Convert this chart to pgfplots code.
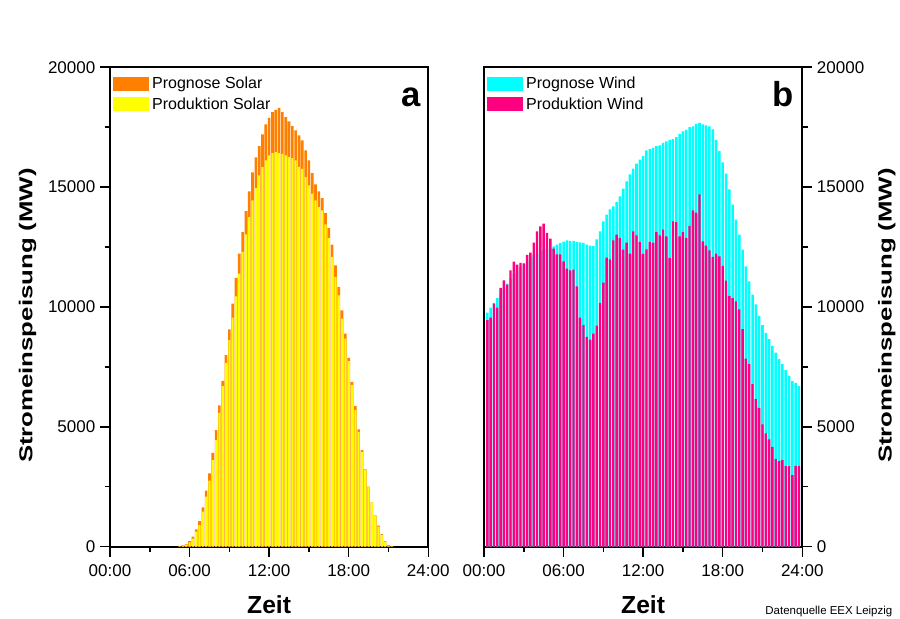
\documentclass[border=0pt]{standalone}
\usepackage{fontspec}
\setmainfont{Liberation Sans}
\usepackage{pgfplots}
\pgfplotsset{compat=1.18}

\definecolor{prsolar}{RGB}{255,128,0}
\definecolor{prodsolar}{RGB}{255,255,0}
\definecolor{prwind}{RGB}{0,255,255}
\definecolor{prodwind}{RGB}{255,0,128}

% solar, hours / MW
\pgfplotstableread{
h     prog   prod
5.25  20     10
5.50  50     30
5.75  111    80
6.00  236    180
6.25  417    333
6.50  722    625
6.75  1069   900
7.00  1639   1458
7.25  2333   2083
7.50  3056   2750
7.75  3917   3611
8.00  4861   4444
8.25  5889   5583
8.50  6917   6694
8.75  7986   7667
9.00  9069   8611
9.25  10139  9556
9.50  11208  10444
9.75  12222  11389
10.00 13125  12292
10.25 14000  13028
10.50 14819  13750
10.75 15611  14444
11.00 16236  14958
11.25 16708  15486
11.50 17194  15833
11.75 17611  16111
12.00 17889  16319
12.25 18125  16417
12.50 18222  16458
12.75 18306  16417
13.00 18125  16389
13.25 17917  16319
13.50 17736  16250
13.75 17542  16208
14.00 17361  16111
14.25 17153  15833
14.50 16944  15764
14.75 16528  15417
15.00 16111  15069
15.25 15583  14722
15.50 15111  14444
15.75 14819  14167
16.00 14542  14028
16.25 13917  13444
16.50 13292  12875
16.75 12597  12083
17.00 11736  11250
17.25 10833  10486
17.50 9861   9514
17.75 8889   8681
18.00 7875   7736
18.25 6875   6736
18.50 5861   5694
18.75 4889   4792
19.00 4028   3958
19.25 3222   3194
19.50 2500   2500
19.75 1847   1847
20.00 1306   1292
20.25 875    833
20.50 528    486
20.75 236    208
21.00 69     42
21.25 20     10
}\solar

% wind, hours / MW
\pgfplotstableread{
h     prog   prod
0.25  9765   9445
0.50  9973   9556
0.75  10167  10140
1.00  10376  9973
1.25  10556  10792
1.50  10765  11112
1.75  10973  10931
2.00  11181  11529
2.25  11390  11890
2.50  11529  11765
2.75  11668  11834
3.00  11806  11820
3.25  11945  12168
3.50  12057  12265
3.75  12154  12682
4.00  12251  13154
4.25  12334  13362
4.50  12390  13473
4.75  12432  13084
5.00  12473  12848
5.25  12529  12432
5.50  12598  12195
5.75  12668  12195
6.00  12723  11904
6.25  12779  11598
6.50  12751  11529
6.75  12751  11557
7.00  12709  10862
7.25  12696  9556
7.50  12668  9237
7.75  12598  8751
8.00  12557  8640
8.25  12543  8890
8.50  12820  9223
8.75  13154  10168
9.00  13570  11015
9.25  13848  12057
9.50  14071  11987
9.75  14196  12779
10.00 14376  13015
10.25 14612  12876
10.50 14932  12390
10.75 15237  12682
11.00 15529  12223
11.25 15765  13154
11.50 15973  12987
11.75 16140  12709
12.00 16293  12209
12.25 16529  12404
12.50 16598  12709
12.75 16640  12682
13.00 16709  13126
13.25 16737  12987
13.50 16848  13223
13.75 16904  12945
14.00 16973  12042
14.25 17001  13570
14.50 17084  13542
14.75 17223  12945
15.00 17320  13126
15.25 17390  12876
15.50 17501  13376
15.75 17529  14029
16.00 17640  13931
16.25 17681  14695
16.50 17612  12737
16.75 17570  12556
17.00 17529  12362
17.25 17404  12084
17.50 16973  12223
17.75 16501  12112
18.00 16029  11709
18.25 15556  11097
18.50 14900  10459
18.75 14265  10370
19.00 13645  10237
19.25 13020  9900
19.50 12390  9070
19.75 11695  7847
20.00 11070  7611
20.25 10514  6778
20.50 10111  6153
20.75 9625   5792
21.00 9236   5097
21.25 8917   4722
21.50 8653   4472
21.75 8375   4167
22.00 8097   3653
22.25 7820   3569
22.50 7611   3611
22.75 7361   3375
23.00 7125   3361
23.25 6903   2986
23.50 6833   3375
23.75 6695   3375
}\wind

\pgfplotsset{
  panel/.style={
    scale only axis, width=238.7pt, height=359.6pt,
    xmin=0, xmax=24, ymin=0, ymax=20000,
    xtick={0,6,12,18,24},
    xticklabels={00:00,06:00,12:00,18:00,24:00},
    minor xtick={3,9,15,21},
    ytick={0,5000,10000,15000,20000},
    minor ytick={2500,7500,12500,17500},
    scaled y ticks=false,
    /pgf/number format/1000 sep={},
    /pgf/number format/assume math mode=true,
    tick align=outside,
    major tick length=7.5pt, minor tick length=4pt,
    tick style={black, line width=1.1pt},
    axis line style={line width=1.5pt},
    ticklabel style={font=\fontsize{12.75}{14}\selectfont},
    xticklabel style={yshift=-2.5pt},
    xlabel={Zeit},
    xlabel style={font=\bfseries\fontsize{18.5}{20}\selectfont,
      at={(axis description cs:0.5,-0.139)}, anchor=base},
    ylabel={\scalebox{1.38}[1]{Stromeinspeisung (MW)}},
    legend style={draw=none, fill=none, anchor=north west,
      at={(axis description cs:0.01,0.985)},
      font=\fontsize{12}{14}\selectfont, row sep=1pt, inner sep=0pt,
      cells={anchor=west}},
    legend cell align=left,
  },
  barleg/.style={legend image code/.code={%
    \fill[##1] (0pt,-5.25pt) rectangle (27pt,5.25pt);}},
}

\begin{document}
\begin{tikzpicture}
\useasboundingbox (0,0) rectangle (675pt,463.5pt);

\begin{axis}[panel,
  at={(82.5pt,53.5pt)}, anchor=south west,
  xtick pos=bottom, ytick pos=left,
  ylabel style={font=\bfseries\fontsize{14}{16}\selectfont,
    at={(axis description cs:-0.259,0.482)}, anchor=center},
]
\addplot[ybar, bar shift=0pt, bar width=0.2, fill=prsolar, draw=none, barleg]
  table[x=h, y=prog] {\solar};
\addlegendentry{Prognose Solar}
\addplot[ybar, bar shift=0pt, bar width=0.16, fill=prodsolar, draw=none, barleg]
  table[x=h, y=prod] {\solar};
\addlegendentry{Produktion Solar}
\node[font=\bfseries\fontsize{26}{28}\selectfont, anchor=base]
  at (axis description cs:0.945,0.918) {a};
\end{axis}

\begin{axis}[panel,
  at={(363pt,53.5pt)}, anchor=south west,
  xtick pos=bottom, ytick pos=right, yticklabel pos=right,
  ylabel style={font=\bfseries\fontsize{14}{16}\selectfont,
    at={(axis description cs:1.266,0.482)}, anchor=center, rotate=0},
]
\addplot[ybar, bar shift=0pt, bar width=0.19, fill=prwind, draw=none, barleg]
  table[x=h, y=prog] {\wind};
\addlegendentry{Prognose Wind}
\addplot[ybar, bar shift=0pt, bar width=0.18, fill=prodwind, draw=none, barleg]
  table[x=h, y=prod] {\wind};
\addlegendentry{Produktion Wind}
\node[font=\bfseries\fontsize{26}{28}\selectfont, anchor=base]
  at (axis description cs:0.94,0.918) {b};
\end{axis}

\node[anchor=base east, font=\fontsize{8.6}{10}\selectfont]
  at (672.75pt,2.25pt) {Datenquelle EEX Leipzig};
\end{tikzpicture}
\end{document}
